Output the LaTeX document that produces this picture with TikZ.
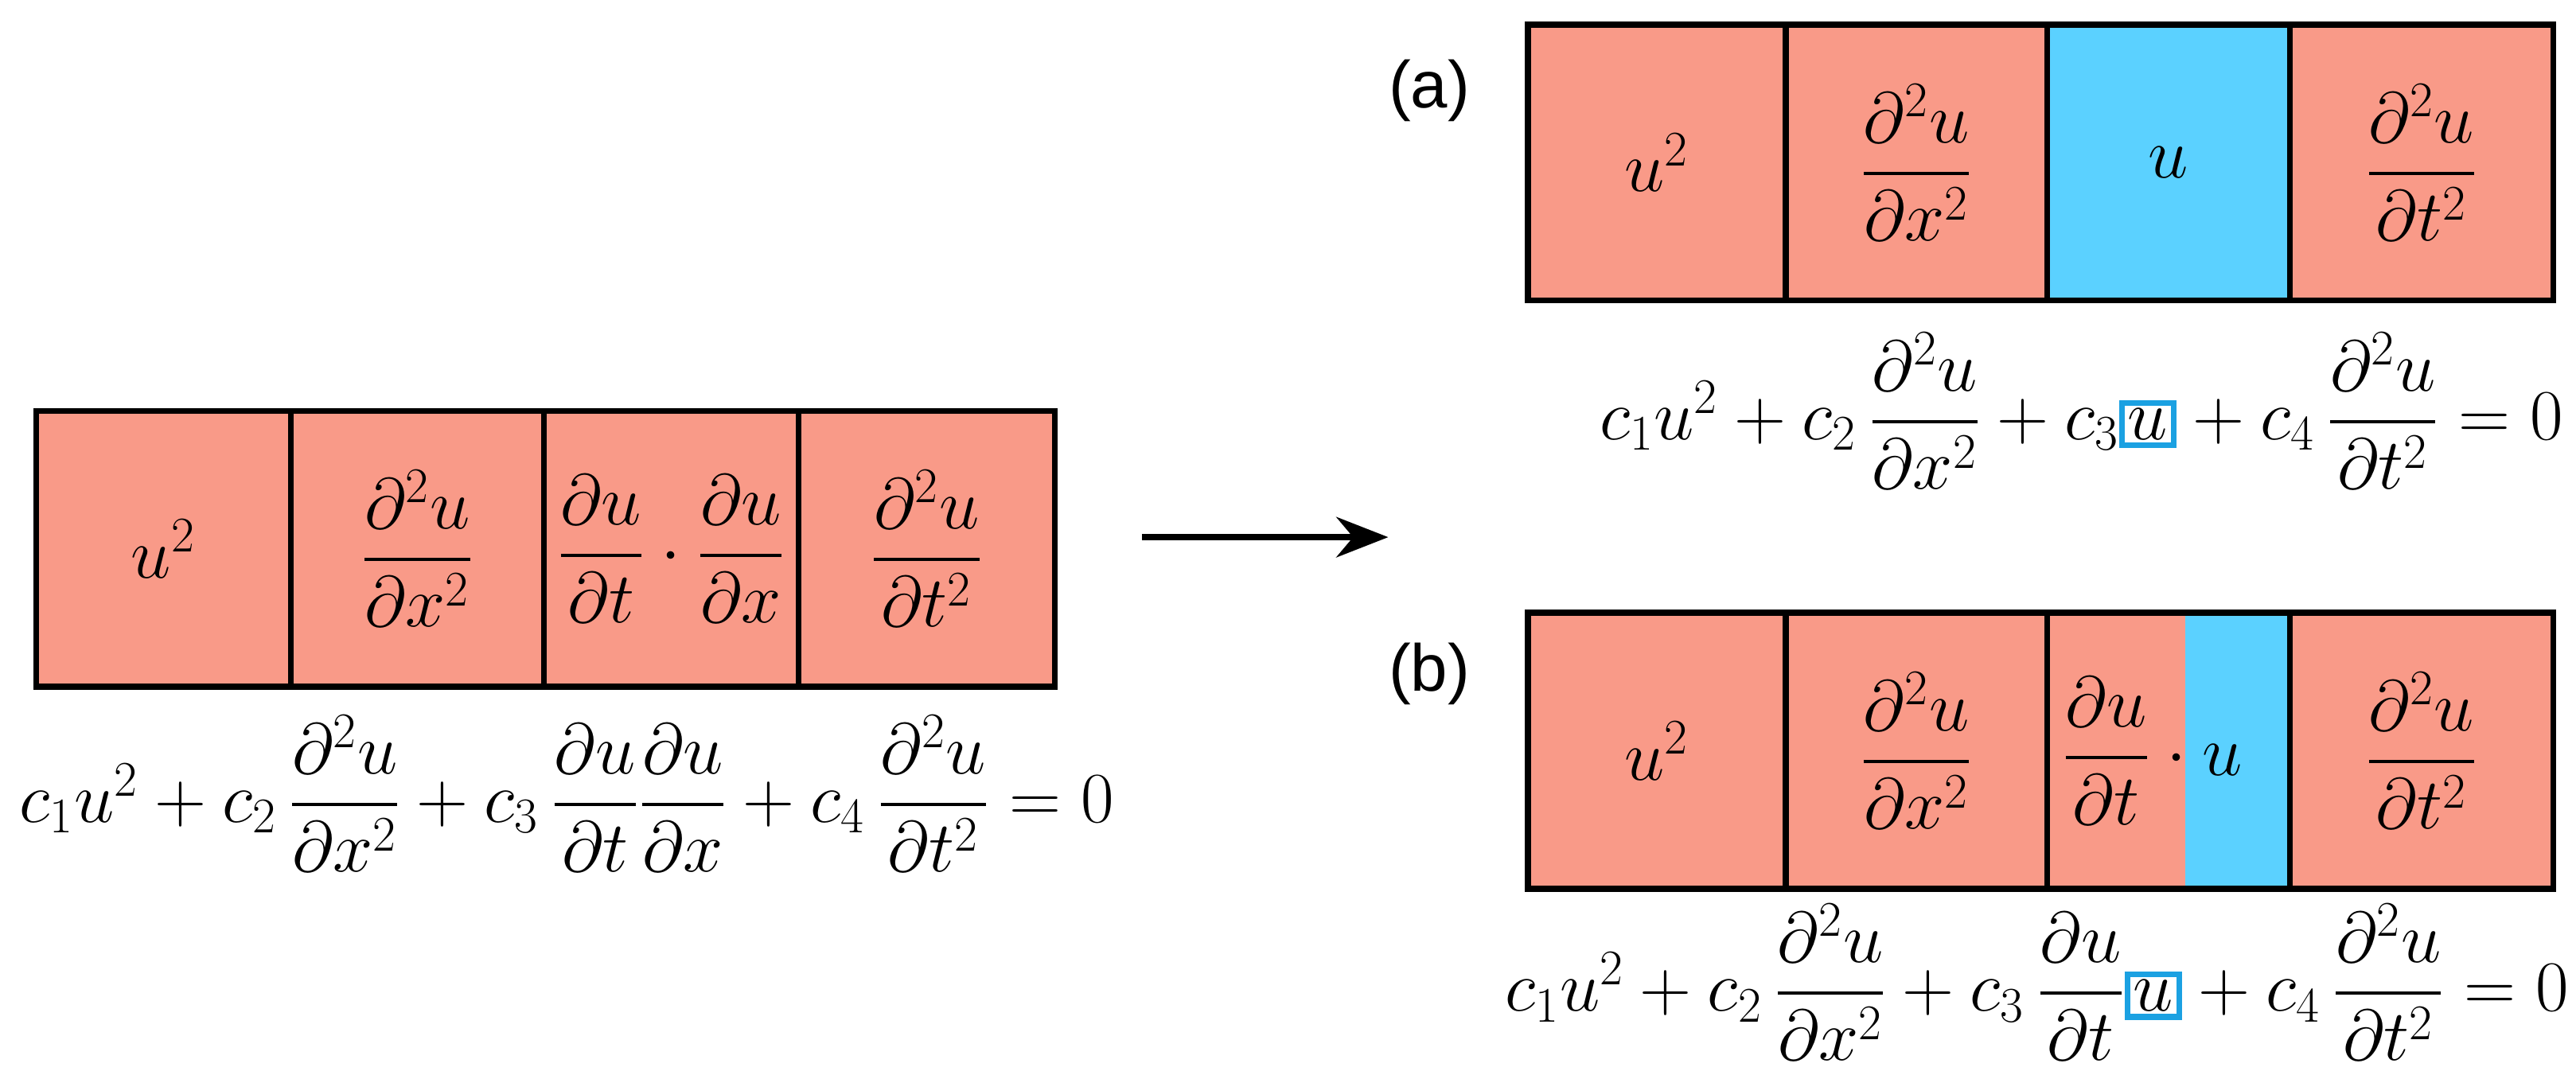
\documentclass[tikz,border=0pt]{standalone}
\usepackage{amsmath}
\usepackage{fontspec}
\newfontfamily\sansf{Liberation Sans}
\definecolor{salmon}{HTML}{F99A88}
\definecolor{cyanf}{HTML}{5BD1FF}
\definecolor{hl}{HTML}{1BA1E2}
\newcommand{\hlu}{{\setlength{\fboxsep}{1pt}\setlength{\fboxrule}{2pt}\fcolorbox{hl}{white}{$u$}}}
\usetikzlibrary{arrows.meta}
\begin{document}
\begin{tikzpicture}[x=0.02cm,y=-0.02cm,font=\fontsize{23}{27}\selectfont,
  cell/.style={draw=black,line width=2pt},
  lbl/.style={inner sep=0pt,font=\sansf\fontsize{23}{27}\selectfont}]
\useasboundingbox (0,0) rectangle (1568,654);
% left strip
\fill[salmon] (22,250) rectangle (642,418);
\foreach \x in {177,331,486}{\draw[cell] (\x,250) -- (\x,418);}
\draw[cell] (22,250) rectangle (642,418);
\node (l1) at (99.5,334) {$u^2$};
\node (l2) at (254,334) {$\dfrac{\partial^2u}{\partial x^2}$};
\node (l3) at (408.5,334) {$\dfrac{\partial u}{\partial t}\cdot\dfrac{\partial u}{\partial x}$};
\node (l4) at (564,334) {$\dfrac{\partial^2u}{\partial t^2}$};
\node (le) at (345,483) {$c_1u^2+c_2\,\dfrac{\partial^2u}{\partial x^2}+c_3\,\dfrac{\partial u}{\partial t}\dfrac{\partial u}{\partial x}+c_4\,\dfrac{\partial^2u}{\partial t^2}=0$};
% arrow
\coordinate (as) at (695,327);
\coordinate (ae) at (845,327);
\draw[line width=2pt,-{Stealth[length=18pt,width=14pt]}] (as) -- (ae);
% (a)
\node[lbl] (la) at (870,55) {(a)};
\fill[salmon] (930,15) rectangle (1554,183);
\fill[cyanf] (1246,15) rectangle (1394,183);
\foreach \x in {1087,1246,1394}{\draw[cell] (\x,15) -- (\x,183);}
\draw[cell] (930,15) rectangle (1554,183);
\node (a1) at (1008.5,99) {$u^2$};
\node (a2) at (1166.5,99) {$\dfrac{\partial^2u}{\partial x^2}$};
\node (a3) at (1320,99) {$u$};
\node (a4) at (1474,99) {$\dfrac{\partial^2u}{\partial t^2}$};
\node (ae2) at (1267,250) {$c_1u^2+c_2\,\dfrac{\partial^2u}{\partial x^2}+c_3\hlu+c_4\,\dfrac{\partial^2u}{\partial t^2}=0$};
% (b)
\node[lbl] (lb) at (870,410) {(b)};
\fill[salmon] (930,373) rectangle (1554,541);
\fill[cyanf] (1330,373) rectangle (1394,541);
\foreach \x in {1087,1246,1394}{\draw[cell] (\x,373) -- (\x,541);}
\draw[cell] (930,373) rectangle (1554,541);
\node (b1) at (1008.5,457) {$u^2$};
\node (b2) at (1166.5,457) {$\dfrac{\partial^2u}{\partial x^2}$};
\node (b3) at (1310,457) {$\dfrac{\partial u}{\partial t}\cdot u$};
\node (b4) at (1474,457) {$\dfrac{\partial^2u}{\partial t^2}$};
\node (be) at (1240,598) {$c_1u^2+c_2\,\dfrac{\partial^2u}{\partial x^2}+c_3\,\dfrac{\partial u}{\partial t}\hlu+c_4\,\dfrac{\partial^2u}{\partial t^2}=0$};
\end{tikzpicture}
\end{document}
